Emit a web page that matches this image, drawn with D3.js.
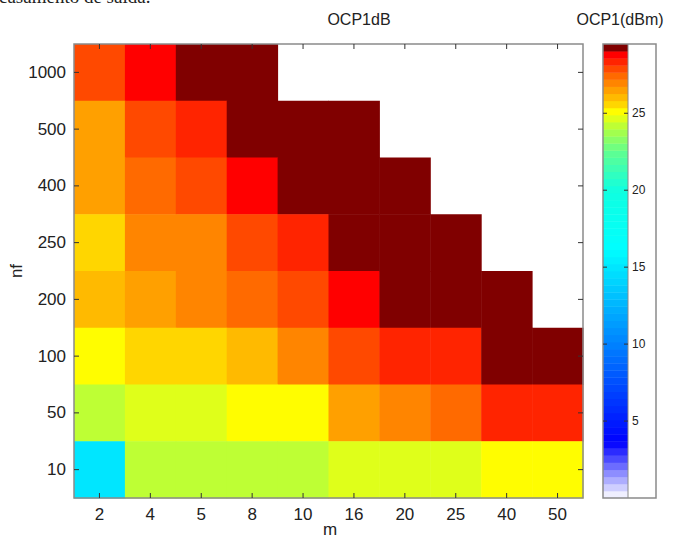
<!DOCTYPE html>
<html>
<head>
<meta charset="utf-8">
<script src="https://cdn.jsdelivr.net/npm/d3@7/dist/d3.min.js"></script>
<style>
  html, body { margin: 0; padding: 0; background: #fff; }
  svg { display: block; }
  text { font-family: Arial, "Liberation Sans", sans-serif; fill: #222; }
</style>
</head>
<body>
<svg id="chart" width="676" height="538"></svg>
<script>
// Number of phases (columns) and number of fingers (rows)
const mLabels  = ["2", "4", "5", "8", "10", "16", "20", "25", "40", "50"];
const nfLabels = ["1000", "500", "400", "250", "200", "100", "50", "10"];

// OCP1dB (dBm) for each nf row, one value per m column; null = no result
const ocpNf1000 = [27.9, 28.8, 29.3, 29.3, null, null, null, null, null, null];
const ocpNf500  = [26.5, 27.9, 28.3, 29.3, 29.3, 29.3, null, null, null, null];
const ocpNf400  = [26.5, 27.4, 27.9, 28.8, 29.3, 29.3, 29.3, null, null, null];
const ocpNf250  = [25.6, 27.0, 27.0, 27.9, 28.3, 29.3, 29.3, 29.3, null, null];
const ocpNf200  = [26.0, 26.5, 27.0, 27.4, 27.9, 28.8, 29.3, 29.3, 29.3, null];
const ocpNf100  = [25.1, 25.6, 25.6, 26.0, 27.0, 27.9, 28.3, 28.3, 29.3, 29.3];
const ocpNf50   = [24.2, 24.7, 24.7, 25.1, 25.1, 26.5, 27.0, 27.4, 28.3, 28.3];
const ocpNf10   = [15.0, 24.2, 24.2, 24.2, 24.2, 24.7, 24.7, 24.7, 25.1, 25.1];

// Colour bar ticks
const cbarTicks = [5, 10, 15, 20, 25];

const rows = [ocpNf1000, ocpNf500, ocpNf400, ocpNf250, ocpNf200, ocpNf100, ocpNf50, ocpNf10];
const cells = [];
rows.forEach((vals, r) => vals.forEach((v, c) => {
  if (v !== null) cells.push({ nf: nfLabels[r], m: mLabels[c], v });
}));

const svg = d3.select("#chart");

// Plot frame
const plot = { x0: 74, x1: 583, y0: 44, y1: 498 };
const cbar = { x0: 603, xi: 628, x1: 656 };

const x = d3.scaleBand().domain(mLabels).range([plot.x0, plot.x1]);
const y = d3.scaleBand().domain(nfLabels).range([plot.y0, plot.y1]);

// Colour map: white -> blue -> cyan -> yellow -> red, dark red top level
const vMin = 0, vMax = 29.5, nLevels = 64;
const ramp = d3.scaleLinear()
  .domain([0.0, 3.6, 16.2, 20.0, 22.5, 24.0, 25.1, 25.6, 26.5, 27.6, 28.8, 29.04, 29.05, 29.5])
  .range(["#ffffff", "#0000ff", "#00ffff", "#10ffe0", "#60ff90", "#b0ff40", "#ffff00",
          "#ffd400", "#ffa000", "#ff6000", "#ff0000", "#ff0000", "#800000", "#800000"])
  .interpolate(d3.interpolateRgb)
  .clamp(true);
const step = (vMax - vMin) / nLevels;
const levelColors = d3.range(nLevels).map(k => ramp(vMin + (k + 0.5) * step));
const color = d3.scaleQuantize().domain([vMin, vMax]).range(levelColors);

// Cells
svg.append("g")
  .selectAll("rect")
  .data(cells)
  .join("rect")
  .attr("x", d => x(d.m))
  .attr("y", d => y(d.nf))
  .attr("width", x.bandwidth() + 0.5)
  .attr("height", y.bandwidth() + 0.5)
  .attr("fill", d => color(d.v));

// Axes (ticks pointing inward on all four sides)
const tickLen = 5;
const frame = svg.append("g");
frame.append("rect")
  .attr("x", plot.x0).attr("y", plot.y0)
  .attr("width", plot.x1 - plot.x0).attr("height", plot.y1 - plot.y0)
  .attr("fill", "none").attr("stroke", "#8a8a8a").attr("stroke-width", 1.5);

const xBottom = svg.append("g")
  .attr("transform", `translate(0,${plot.y1})`)
  .call(d3.axisBottom(x).tickSizeInner(-tickLen).tickSizeOuter(0).tickPadding(10));
const xTop = svg.append("g")
  .attr("transform", `translate(0,${plot.y0})`)
  .call(d3.axisTop(x).tickSizeInner(-tickLen).tickSizeOuter(0).tickFormat(""));
const yLeft = svg.append("g")
  .attr("transform", `translate(${plot.x0},0)`)
  .call(d3.axisLeft(y).tickSizeInner(-tickLen).tickSizeOuter(0).tickPadding(8));
const yRight = svg.append("g")
  .attr("transform", `translate(${plot.x1},0)`)
  .call(d3.axisRight(y).tickSizeInner(-tickLen).tickSizeOuter(0).tickFormat(""));

[xBottom, xTop, yLeft, yRight].forEach(g => {
  g.select(".domain").remove();
  g.selectAll(".tick line").attr("stroke", "#333").attr("stroke-width", 1);
  g.selectAll(".tick text").attr("font-size", 17).attr("fill", "#222")
    .attr("font-family", "Arial, 'Liberation Sans', sans-serif");
});

// Axis titles
svg.append("text")
  .attr("x", 330).attr("y", 535)
  .attr("text-anchor", "middle").attr("font-size", 17)
  .text("m");
svg.append("text")
  .attr("transform", `translate(22,${(plot.y0 + plot.y1) / 2}) rotate(-90)`)
  .attr("text-anchor", "middle").attr("font-size", 17)
  .text("nf");

// Titles
svg.append("text")
  .attr("x", 359).attr("y", 25)
  .attr("text-anchor", "middle").attr("font-size", 16).attr("fill", "#333")
  .text("OCP1dB");
svg.append("text")
  .attr("x", 620).attr("y", 25)
  .attr("text-anchor", "middle").attr("font-size", 16).attr("fill", "#333")
  .text("OCP1(dBm)");

// Running text of the page above the figure
svg.append("text")
  .attr("x", -1).attr("y", 3)
  .attr("font-size", 19).attr("fill", "#000")
  .style("font-family", "'Liberation Serif', 'Times New Roman', serif")
  .text("casamento de saída.");

// Colour bar
const cy = d3.scaleLinear().domain([vMin, vMax]).range([plot.y1, plot.y0]);
const cb = svg.append("g");
cb.selectAll("rect.level")
  .data(d3.range(nLevels))
  .join("rect")
  .attr("class", "level")
  .attr("x", cbar.x0)
  .attr("y", k => cy(vMin + (k + 1) * step))
  .attr("width", cbar.xi - cbar.x0)
  .attr("height", k => cy(vMin + k * step) - cy(vMin + (k + 1) * step) + 0.4)
  .attr("fill", k => levelColors[k]);

cb.append("rect")
  .attr("x", cbar.x0).attr("y", plot.y0)
  .attr("width", cbar.x1 - cbar.x0).attr("height", plot.y1 - plot.y0)
  .attr("fill", "none").attr("stroke", "#8a8a8a").attr("stroke-width", 1.5);
cb.append("line")
  .attr("x1", cbar.xi).attr("x2", cbar.xi)
  .attr("y1", plot.y0).attr("y2", plot.y1)
  .attr("stroke", "#8a8a8a").attr("stroke-width", 1);

const cbt = cb.selectAll("g.cbtick").data(cbarTicks).join("g")
  .attr("class", "cbtick")
  .attr("transform", d => `translate(0,${cy(d)})`);
cbt.append("line").attr("x1", cbar.x0).attr("x2", cbar.x0 + 4)
  .attr("stroke", "#333");
cbt.append("line").attr("x1", cbar.xi - 4).attr("x2", cbar.xi)
  .attr("stroke", "#333");
cbt.append("text")
  .attr("x", cbar.xi + 4).attr("dy", "0.35em")
  .attr("font-size", 12)
  .text(d => d);
</script>
</body>
</html>
